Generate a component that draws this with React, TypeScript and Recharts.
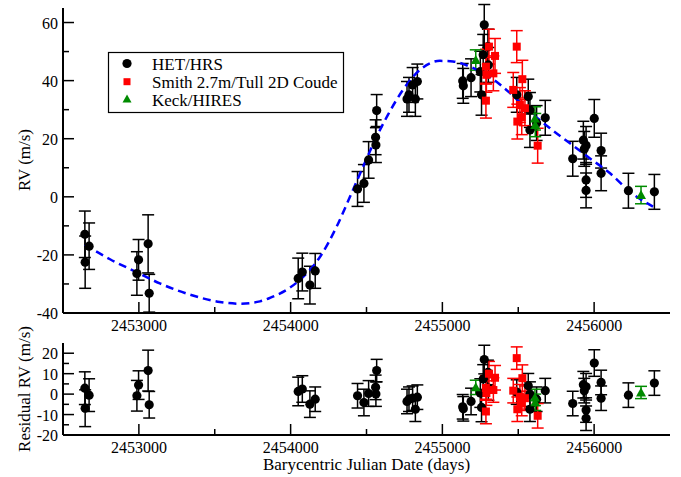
import React from 'react';
import { ComposedChart, Scatter, Line, XAxis, YAxis, ErrorBar } from 'recharts';

const FONT = '"Liberation Serif", "Times New Roman", Times, serif';
const BLACK = '#000000';
const RED = '#ff0000';
const GREEN = '#008b00';
const BLUE = '#0000ff';

// Time axis (BJD)
const jdDomain = [2452500, 2456500];
const jdTicks = [2453000, 2453500, 2454000, 2454500, 2455000, 2455500, 2456000];

// RV axis (m/s)
const rvDomain = [-40, 65];
const rvTicks = [-40, -30, -20, -10, 0, 10, 20, 30, 40, 50, 60];

// Residual axis (m/s)
const resDomain = [-20, 25];
const resTicks = [-20, -15, -10, -5, 0, 5, 10, 15, 20];

// Series names and colours
const seriesNames = ['HET/HRS', 'Smith 2.7m/Tull 2D Coude', 'Keck/HIRES'];
const seriesColors = [BLACK, RED, GREEN];

// HET/HRS
const hetJd = [
  2452644, 2452646, 2452672, 2452987, 2452998, 2453061, 2453068,
  2454050, 2454077, 2454127, 2454162,
  2454441, 2454483, 2454514, 2454560, 2454562, 2454567,
  2454767, 2454780, 2454804, 2454822, 2454835,
  2455134, 2455138, 2455189, 2455250, 2455258, 2455269, 2455276, 2455300, 2455303,
  2455490, 2455566, 2455577, 2455577, 2455621, 2455678,
  2455859, 2455929, 2455935, 2455947, 2455947, 2455947, 2456001, 2456046, 2456046,
  2456226, 2456397,
];
const hetRv = [
  -12.9, -22.5, -17.0, -26.4, -21.7, -16.2, -33.2,
  -28.1, -25.9, -30.4, -25.5,
  2.7, 4.6, 12.7, 20.5, 17.8, 29.7,
  33.7, 35.1, 38.5, 33.7, 39.7,
  39.9, 38.2, 41.0, 43.1, 35.1, 48.9, 59.2, 51.7, 45.4,
  35.1, 34.5, 29.9, 23.0, 25.4, 27.2,
  13.1, 19.5, 16.5, 17.7, 5.8, 2.2, 27.0, 15.9, 8.1,
  2.1, 1.7,
];
const hetErr = [
  8, 9, 8, 7.5, 7, 10, 6.5,
  7, 6.5, 6.5, 6,
  6, 6.5, 6.3, 6, 6, 5.5,
  6, 6, 6, 6, 6,
  6, 6, 6.5, 7, 7, 7, 7, 6, 6,
  6, 6, 6, 6, 6, 6,
  6, 6.5, 6, 6.5, 6, 6, 6.5, 6, 6,
  6, 6,
];
const hetRes = [
  2.9, -6.9, -0.5, -0.8, 4.4, 11.5, -5.2,
  1.3, 2.5, -4.9, -2.5,
  -0.8, -4.1, 0.3, 3.3, 0.0, 11.5,
  -3.6, -2.5, -2.0, -7.4, -1.5,
  -6.2, -7.2, -3.6, 0.5, -6.5, 7.4, 16.9, 10.6, 3.0,
  1.0, 4.1, 0.0, -7.4, -2.5, 1.7,
  -4.6, 4.6, 1.7, 3.6, -7.8, -11.8, 15.2, 5.7, -2.0,
  -0.5, 5.4,
];

// Smith 2.7m / Tull 2D Coude
const smithJd = [2455287, 2455290, 2455307, 2455347, 2455336, 2455287, 2455467, 2455490, 2455494, 2455511, 2455523, 2455527, 2455544, 2455628];
const smithRv = [44.8, 42.0, 51.7, 48.5, 42.5, 33.1, 36.8, 51.7, 25.9, 31.6, 27.4, 40.5, 30.5, 17.6];
const smithErr = [6, 6, 6, 6, 6, 6, 6, 5.5, 6, 6, 6, 6.5, 6, 6];
const smithRes = [3.0, 0.5, 10.0, 8.0, 2.0, -8.5, 1.7, 17.6, -7.4, -1.3, -4.6, 7.8, -2.0, -10.6];

// Keck/HIRES
const keckJd = [2455220, 2455610, 2455612, 2456309];
const keckRv = [47.1, 27.0, 24.7, 0.6];
const keckErr = [3.5, 4, 4, 3];
const keckRes = [3.3, -1.6, -4.0, 0.8];

// Orbit solution
const fitJd = [
  2452644, 2452810, 2452987, 2453138, 2453356, 2453534, 2453666, 2453798, 2453864, 2453995,
  2454061, 2454193, 2454303, 2454391, 2454477, 2454556, 2454641, 2454740, 2454852, 2454984,
  2455070, 2455182, 2455314, 2455446, 2455577, 2455709, 2455841, 2455973, 2456105, 2456237, 2456388,
];
const fitRv = [
  -16.5, -21.5, -26.0, -29.8, -34.0, -36.2, -36.8, -36.0, -34.8, -31.3,
  -28.6, -20.7, -10.3, 0.0, 10.3, 19.5, 28.2, 36.8, 43.7, 46.8,
  46.6, 44.8, 41.2, 35.7, 29.3, 23.6, 18.4, 13.2, 8.1, 1.7, -3.4,
];

const rows = (jd: number[], v: number[], e: number[]) => jd.map((x, i) => ({ x, y: v[i], e: e[i] }));

const hetRows = rows(hetJd, hetRv, hetErr);
const smithRows = rows(smithJd, smithRv, smithErr);
const keckRows = rows(keckJd, keckRv, keckErr);
const hetResRows = rows(hetJd, hetRes, hetErr);
const smithResRows = rows(smithJd, smithRes, smithErr);
const keckResRows = rows(keckJd, keckRes, keckErr);
const fitRows = fitJd.map((x, i) => ({ x, y: fitRv[i] }));

// Marker shapes
const Dot = (p: any) => <circle cx={p.cx} cy={p.cy} r={4.6} fill={BLACK} />;
const Sq = (p: any) => <rect x={p.cx - 4} y={p.cy - 4} width={8} height={8} fill={RED} />;
const Tri = (p: any) => (
  <path d={`M${p.cx},${p.cy - 5}L${p.cx + 5},${p.cy + 4}L${p.cx - 5},${p.cy + 4}Z`} fill={GREEN} />
);

// Inward ticks: horizontal axes
const jdTick = (side: 'bottom' | 'top', labelled: boolean) => (p: any) => {
  const v = p.payload.value;
  const major = v % 1000 === 0;
  const len = major ? 11 : 6;
  const dir = side === 'bottom' ? -1 : 1;
  return (
    <g>
      <line x1={p.x} y1={p.y} x2={p.x} y2={p.y + dir * len} stroke={BLACK} strokeWidth={1.5} />
      {labelled && major ? (
        <text x={p.x} y={p.y + 17.5} textAnchor="middle" fontSize={16} fontFamily={FONT} fill={BLACK}>
          {v}
        </text>
      ) : null}
    </g>
  );
};

// Inward ticks: vertical axes
const valTick = (side: 'left' | 'right', step: number, labelled: boolean) => (p: any) => {
  const v = p.payload.value;
  const major = v % step === 0;
  const len = major ? 11 : 6;
  const dir = side === 'left' ? 1 : -1;
  return (
    <g>
      <line x1={p.x} y1={p.y} x2={p.x + dir * len} y2={p.y} stroke={BLACK} strokeWidth={1.5} />
      {labelled && major ? (
        <text x={p.x - 5} y={p.y + 6} textAnchor="end" fontSize={16} fontFamily={FONT} fill={BLACK}>
          {v}
        </text>
      ) : null}
    </g>
  );
};

const frame = { stroke: BLACK, strokeWidth: 2 };

const axes = (yDomain: number[], yTicks: number[], yStep: number, xHeight: number) => [
  <XAxis
    key="xb"
    xAxisId="b"
    dataKey="x"
    type="number"
    domain={jdDomain}
    ticks={jdTicks}
    interval={0}
    allowDataOverflow
    height={xHeight}
    tickSize={0}
    tickMargin={0}
    tickLine={false}
    axisLine={frame}
    tick={jdTick('bottom', true)}
  />,
  <XAxis
    key="xt"
    xAxisId="t"
    orientation="top"
    dataKey="x"
    type="number"
    domain={jdDomain}
    ticks={jdTicks}
    interval={0}
    allowDataOverflow
    height={0}
    tickSize={0}
    tickMargin={0}
    tickLine={false}
    axisLine={frame}
    tick={jdTick('top', false)}
  />,
  <YAxis
    key="yl"
    yAxisId="l"
    dataKey="y"
    type="number"
    domain={yDomain}
    ticks={yTicks}
    interval={0}
    allowDataOverflow
    width={63}
    tickSize={0}
    tickMargin={0}
    tickLine={false}
    axisLine={frame}
    tick={valTick('left', yStep, true)}
  />,
  <YAxis
    key="yr"
    yAxisId="r"
    orientation="right"
    dataKey="y"
    type="number"
    domain={yDomain}
    ticks={yTicks}
    interval={0}
    allowDataOverflow
    width={0}
    tickSize={0}
    tickMargin={0}
    tickLine={false}
    axisLine={frame}
    tick={valTick('right', yStep, false)}
  />,
];

const bar = (color: string) => (
  <ErrorBar dataKey="e" direction="y" width={6} stroke={color} strokeWidth={1.5} />
);

export default function App() {
  return (
    <div style={{ position: 'absolute', left: 0, top: 0, width: 681, height: 477, background: '#fff', fontFamily: FONT }}>
      <div style={{ position: 'absolute', left: 0, top: 0 }}>
        <ComposedChart width={681} height={340} margin={{ top: 8, right: 11, bottom: 0, left: 0 }}>
          {axes(rvDomain, rvTicks, 20, 27)}
          <Scatter name={seriesNames[0]} xAxisId="b" yAxisId="l" data={hetRows} shape={Dot} isAnimationActive={false}>
            {bar(BLACK)}
          </Scatter>
          <Scatter name={seriesNames[1]} xAxisId="b" yAxisId="l" data={smithRows} shape={Sq} isAnimationActive={false}>
            {bar(RED)}
          </Scatter>
          <Scatter name={seriesNames[2]} xAxisId="b" yAxisId="l" data={keckRows} shape={Tri} isAnimationActive={false}>
            {bar(GREEN)}
          </Scatter>
          <Line
            xAxisId="t"
            yAxisId="r"
            data={fitRows}
            dataKey="y"
            type="monotone"
            stroke={BLUE}
            strokeWidth={2.5}
            strokeDasharray="8 5"
            dot={false}
            activeDot={false}
            isAnimationActive={false}
          />
        </ComposedChart>
      </div>
      <div style={{ position: 'absolute', left: 0, top: 335 }}>
        <ComposedChart width={681} height={142} margin={{ top: 8, right: 11, bottom: 0, left: 0 }}>
          {axes(resDomain, resTicks, 10, 42)}
          <Scatter xAxisId="b" yAxisId="l" data={hetResRows} shape={Dot} isAnimationActive={false}>
            {bar(BLACK)}
          </Scatter>
          <Scatter xAxisId="b" yAxisId="l" data={smithResRows} shape={Sq} isAnimationActive={false}>
            {bar(RED)}
          </Scatter>
          <Scatter xAxisId="t" yAxisId="r" data={keckResRows} shape={Tri} isAnimationActive={false}>
            {bar(GREEN)}
          </Scatter>
        </ComposedChart>
      </div>
      <svg width={681} height={477} style={{ position: 'absolute', left: 0, top: 0, pointerEvents: 'none' }}>
        <rect x={108.5} y={52.5} width={235} height={60} fill="#fff" stroke={BLACK} strokeWidth={1.2} />
        {seriesNames.map((name, i) => {
          const cy = [63.5, 81.7, 99][i];
          const base = [70, 88.3, 105.7][i];
          const color = seriesColors[i];
          const cx = 127;
          return (
            <g key={name}>
              {i === 0 ? <circle cx={cx} cy={cy} r={4.6} fill={color} /> : null}
              {i === 1 ? <rect x={cx - 3.5} y={cy - 3.5} width={7} height={7} fill={color} /> : null}
              {i === 2 ? <path d={`M${cx},${cy - 4.5}L${cx + 4.5},${cy + 3.5}L${cx - 4.5},${cy + 3.5}Z`} fill={color} /> : null}
              <text x={152} y={base} fontSize={17} fontFamily={FONT} fill={BLACK}>
                {name}
              </text>
            </g>
          );
        })}
        <text transform="translate(30,160) rotate(-90)" textAnchor="middle" fontSize={17} fontFamily={FONT} fill={BLACK}>
          RV (m/s)
        </text>
        <text transform="translate(30,389) rotate(-90)" textAnchor="middle" fontSize={17} fontFamily={FONT} fill={BLACK}>
          Residual RV (m/s)
        </text>
        <text x={366.5} y={469.5} textAnchor="middle" fontSize={17} fontFamily={FONT} fill={BLACK}>
          Barycentric Julian Date (days)
        </text>
      </svg>
    </div>
  );
}
